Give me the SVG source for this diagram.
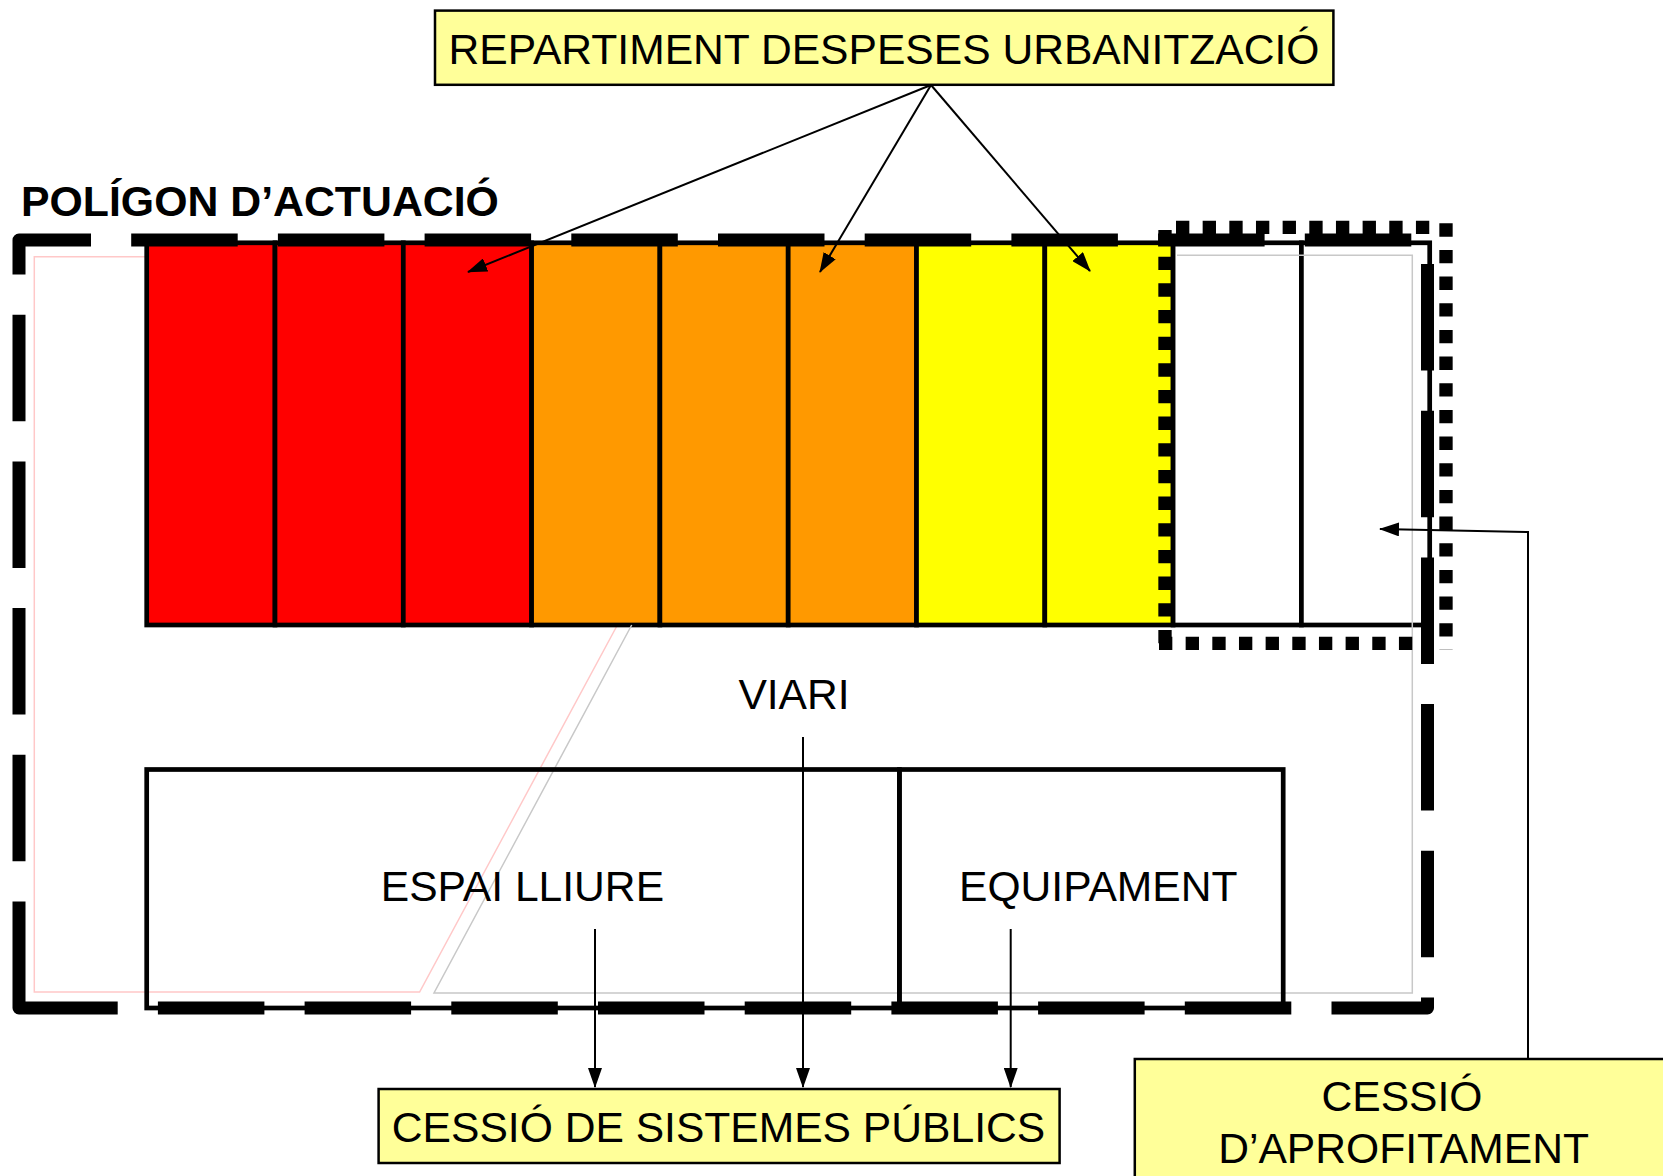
<svg xmlns="http://www.w3.org/2000/svg" width="1663" height="1176" viewBox="0 0 1663 1176">
<defs>
<style>
.lbl{font-family:"Liberation Sans",Arial,sans-serif;font-size:42.6px;fill:#000}
.ttl{font-family:"Liberation Sans",Arial,sans-serif;font-size:42.8px;font-weight:bold;fill:#000}
.blk{stroke:#000;stroke-width:4.7}
.zone{fill:none;stroke:#000;stroke-width:4.7}
.box{fill:#FFFF99;stroke:#000;stroke-width:2.5}
.dots{fill:none;stroke:#000;stroke-width:13.33;stroke-dasharray:13.33 13.33}
.con{fill:none;stroke:#000;stroke-width:2}
.thin{fill:none;stroke-width:1.5}
</style>
<marker id="ah" viewBox="0 0 20 14" refX="19" refY="7" markerWidth="20" markerHeight="14" markerUnits="userSpaceOnUse" orient="auto">
<path d="M0,0 L20,7 L0,14 z" fill="#000"/>
</marker>
</defs>
<rect width="1663" height="1176" fill="#fff"/>

<g id="guides">
<path class="thin" stroke="#FFC8C8" d="M145,256.7 H34.3 V992 H419.6 L617.4,625"/>
</g>

<g id="parcels">
<rect class="blk" x="146.7" y="242.8" width="128.3" height="382.2" fill="#FF0000"/>
<rect class="blk" x="275" y="242.8" width="128.3" height="382.2" fill="#FF0000"/>
<rect class="blk" x="403.3" y="242.8" width="128.3" height="382.2" fill="#FF0000"/>
<rect class="blk" x="531.6" y="242.8" width="128.3" height="382.2" fill="#FF9900"/>
<rect class="blk" x="659.9" y="242.8" width="128.3" height="382.2" fill="#FF9900"/>
<rect class="blk" x="788.2" y="242.8" width="128.3" height="382.2" fill="#FF9900"/>
<rect class="blk" x="916.5" y="242.8" width="128.3" height="382.2" fill="#FFFF00"/>
<rect class="blk" x="1044.8" y="242.8" width="128.3" height="382.2" fill="#FFFF00"/>
<rect class="blk" x="1173.1" y="242.8" width="128.3" height="382.2" fill="#FFFFFF"/>
<rect class="blk" x="1301.4" y="242.8" width="128.3" height="382.2" fill="#FFFFFF"/>
</g>

<g id="guides2">
<path class="thin" stroke="#C8C8C8" d="M1177,255.3 H1412.3 V993 H434 L631.7,625"/>
</g>

<g id="espai-lliure">
<rect class="zone" x="146.7" y="769.5" width="752.7" height="238.5"/>
<text class="lbl" x="522.4" y="901" text-anchor="middle">ESPAI LLIURE</text>
</g>

<g id="equipament">
<rect class="zone" x="899.4" y="769.5" width="383.8" height="238.5"/>
<text class="lbl" x="1098.3" y="901" text-anchor="middle">EQUIPAMENT</text>
</g>

<g id="viari">
<text class="lbl" x="794" y="708.5" text-anchor="middle">VIARI</text>
</g>

<g id="poligon-actuacio">
<path d="M19,1008 V240 H1427.5 V1008 Z" fill="none" stroke="#000" stroke-width="13" stroke-dasharray="106.5 40.2" stroke-linejoin="round"/>
<text class="ttl" x="21" y="216">POLÍGON D’ACTUACIÓ</text>
</g>

<g id="zona-aprofitament">
<path class="dots" d="M1176,227.3 H1430"/>
<path class="dots" d="M1446,223.3 V650"/>
<path class="dots" d="M1159,643.3 H1413"/>
<path class="dots" d="M1165,230 V645"/>
</g>

<g id="repartiment">
<rect class="box" x="435" y="10.6" width="898.4" height="74.2"/>
<text class="lbl" x="884" y="63.5" text-anchor="middle">REPARTIMENT DESPESES URBANITZACIÓ</text>
</g>

<g id="cessio-sistemes">
<rect class="box" x="378.6" y="1089" width="681" height="74"/>
<text class="lbl" x="718.5" y="1142" text-anchor="middle">CESSIÓ DE SISTEMES PÚBLICS</text>
</g>

<g id="cessio-aprofitament">
<rect class="box" x="1134.8" y="1059" width="620" height="200"/>
<text class="lbl" x="1402" y="1110.7" text-anchor="middle">CESSIÓ</text>
<text class="lbl" x="1403.6" y="1163" text-anchor="middle">D’APROFITAMENT</text>
</g>

<g id="connectors">
<path class="con" d="M931,85 L468,272" marker-end="url(#ah)"/>
<path class="con" d="M931,85 L820,272" marker-end="url(#ah)"/>
<path class="con" d="M931,85 L1090,271" marker-end="url(#ah)"/>
<path class="con" d="M1528,1059 V532 L1380,529" marker-end="url(#ah)"/>
<path class="con" d="M595,929 V1087" marker-end="url(#ah)"/>
<path class="con" d="M803,737 V1087" marker-end="url(#ah)"/>
<path class="con" d="M1010.7,929 V1087" marker-end="url(#ah)"/>
</g>
</svg>
